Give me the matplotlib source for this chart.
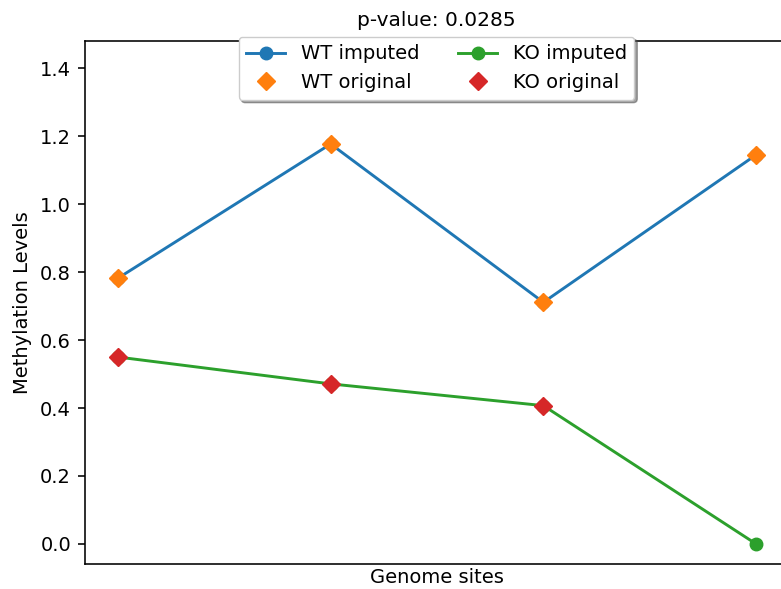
import matplotlib
matplotlib.use("Agg")
import matplotlib.pyplot as plt

# Methylation levels per genome site
sites = [0, 1, 2, 3]
wt_imputed = [0.782, 1.177, 0.711, 1.145]
ko_imputed = [0.550, 0.471, 0.407, 0.0]

# Sites that had measured (non-imputed) values
wt_orig_sites = [0, 1, 2, 3]
wt_original = [0.782, 1.177, 0.711, 1.145]
ko_orig_sites = [0, 1, 2]
ko_original = [0.550, 0.471, 0.407]

p_value = 0.0285

plt.rcParams.update({
    'font.size': 14,
    'axes.linewidth': 1.15,
    'lines.linewidth': 2.1,
    'ytick.major.size': 5,
    'ytick.major.width': 1.15,
    'ytick.major.pad': 5,
    'axes.labelpad': 5.5,
})

fig = plt.figure(figsize=(7.81, 5.89), dpi=100)
ax = fig.add_axes([85 / 781, 25 / 589, 703 / 781, 523 / 589])

ax.plot(sites, wt_imputed, marker='o', color='tab:blue', markersize=9, label='WT imputed')
ax.plot(wt_orig_sites, wt_original, 'D', color='tab:orange', markersize=9, label='WT original')
ax.plot(sites, ko_imputed, marker='o', color='tab:green', markersize=9, label='KO imputed')
ax.plot(ko_orig_sites, ko_original, 'D', color='tab:red', markersize=9, label='KO original')

ax.set_xticks([])
ax.set_ylim(-0.059, 1.48)
ax.set_xlim(-0.155, 3.15)
ax.set_xlabel('Genome sites', labelpad=3)
ax.set_ylabel('Methylation Levels')
ax.set_title(f'p-value: {p_value}', fontsize=14.5, pad=11)

ax.legend(loc='upper center', bbox_to_anchor=(0.5, 1.027), ncol=2,
          shadow=True, fancybox=True, framealpha=1)

plt.savefig('out.png', dpi=100)
